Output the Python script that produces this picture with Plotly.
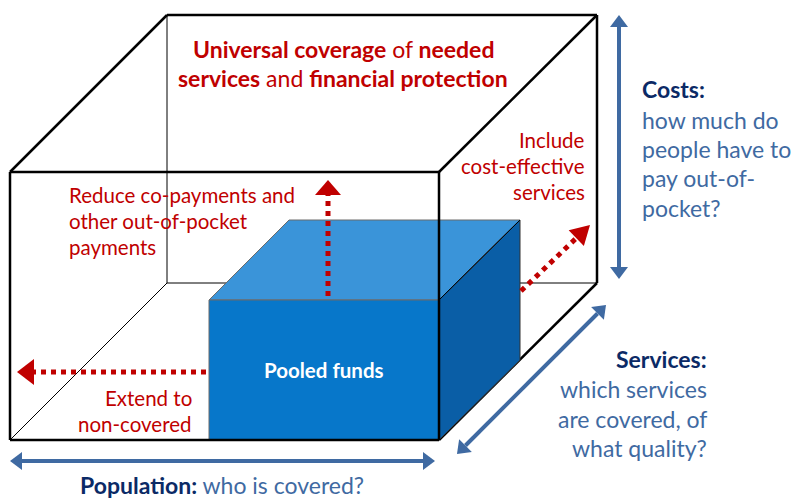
import plotly.graph_objects as go
import math

# ---------------- data (diagram geometry & labels) ----------------
W, H = 792, 500
RED = "#C00000"
NAVY = "#0B2A66"
STEEL = "#3F6AA2"

# outer cube corners
front_face = [(10, 172), (439, 172), (439, 440), (10, 440)]
back_face = [(167, 15), (597, 15), (597, 283), (167, 283)]

# pooled-funds box
box_front = [(209, 300), (439, 300), (439, 440), (209, 440)]
box_top = [(209, 300), (289, 220), (520, 220), (439, 300)]
box_side = [(439, 300), (520, 220), (520, 360), (439, 440)]

title_lines = [
    "<b>Universal coverage</b> of <b>needed</b>",
    "<b>services</b> and <b>financial protection</b>",
]
reduce_lines = ["Reduce co-payments and", "other out-of-pocket", "payments"]
include_lines = ["Include", "cost-effective", "services"]
extend_lines = ["Extend to", "non-covered"]
costs_lines = ["<b>Costs:</b>", "how much do", "people have to", "pay out-of-", "pocket?"]
services_lines = ["<b>Services:</b>", "which services", "are covered, of", "what quality?"]
population_label = "<b><span style='color:%s'>Population:</span></b> who is covered?" % NAVY

FONT = "Lato, 'Open Sans', sans-serif"

shapes = []
annotations = []


def poly(pts, fill, line_color="rgba(0,0,0,0)", lw=0):
    d = "M " + " L ".join(f"{x},{y}" for x, y in pts) + " Z"
    shapes.append(dict(type="path", path=d, xref="x", yref="y", fillcolor=fill,
                       line=dict(color=line_color, width=lw), layer="above"))


def seg(p, q, color="black", lw=2.5, dash="solid"):
    shapes.append(dict(type="line", x0=p[0], y0=p[1], x1=q[0], y1=q[1], xref="x", yref="y",
                       line=dict(color=color, width=lw, dash=dash), layer="above"))


def head(tip, tail, length, half, color):
    dx, dy = tip[0] - tail[0], tip[1] - tail[1]
    n = math.hypot(dx, dy)
    ux, uy = dx / n, dy / n
    bx, by = tip[0] - ux * length, tip[1] - uy * length
    px, py = -uy, ux
    poly([tip, (bx + px * half, by + py * half), (bx - px * half, by - py * half)], color)
    return (bx, by)


# ---- thin hidden edges of cube ----
seg(back_face[0], back_face[3], lw=1)
seg(back_face[3], back_face[2], lw=1)
seg(front_face[3], back_face[3], lw=1)

# ---- thick cube edges (behind box) ----
seg(back_face[0], back_face[1])
seg(back_face[1], back_face[2])
seg(front_face[0], back_face[0])
seg(front_face[1], back_face[1])
seg(front_face[2], back_face[2])

# ---- pooled funds box ----
poly(box_top, "#3A94D9", "#6a6a6a", 1)
poly(box_side, "#0A5EA6", "#333333", 1)
poly(box_front, "#0777CA", "#6a6a6a", 1)
seg((439, 300), (520, 220), lw=1)

# ---- front face of cube ----
seg(front_face[0], front_face[1])
seg(front_face[1], front_face[2])
seg(front_face[2], front_face[3])
seg(front_face[3], front_face[0])

# ---- red dotted arrows ----
b = head((328, 180), (328, 296), 15, 13, RED)
seg((328, 296), b, RED, 5, "5px,5px")
b = head((17, 372), (209, 372), 17, 13, RED)
seg((206, 372), b, RED, 5, "5px,5px")
b = head((590, 225), (521, 291), 19, 11, RED)
seg((521, 291), b, RED, 5, "5px,5px")


# ---- blue dimension arrows ----
def dbl(p, q):
    b1 = head(p, q, 12, 9, STEEL)
    b2 = head(q, p, 12, 9, STEEL)
    seg(b1, b2, STEEL, 4)


dbl((619, 15), (619, 279))
dbl((10, 461), (435, 461))
dbl((457, 454), (606, 305))


# ---- text ----
def lines(texts, x, ys, anchor, color, size):
    for t, y in zip(texts, ys):
        annotations.append(dict(x=x, y=y, xref="x", yref="y", text=t, showarrow=False,
                                xanchor=anchor, yanchor="middle",
                                font=dict(family=FONT, size=size, color=color)))


lines(title_lines, 343, [49, 78], "center", RED, 23)
lines(reduce_lines, 67, [195, 221, 247], "left", RED, 20.5)
lines(include_lines, 587, [140, 166, 192], "right", RED, 20.5)
lines(extend_lines, 194, [398, 424], "right", RED, 20.5)
lines(["<b>Pooled funds</b>"], 324, [370], "center", "white", 20.5)
lines([costs_lines[0]], 640, [89], "left", NAVY, 23)
lines(costs_lines[1:], 640, [120, 149, 178, 208], "left", STEEL, 23)
lines([services_lines[0]], 709, [359], "right", NAVY, 23)
lines(services_lines[1:], 709, [389, 419, 448], "right", STEEL, 23)
lines([population_label], 222, [485], "center", STEEL, 23)

fig = go.Figure()
fig.update_layout(
    width=W, height=H, margin=dict(l=0, r=0, t=0, b=0),
    paper_bgcolor="white", plot_bgcolor="white",
    xaxis=dict(range=[0, W], visible=False, fixedrange=True),
    yaxis=dict(range=[H, 0], visible=False, fixedrange=True),
    shapes=shapes, annotations=annotations, showlegend=False,
)
fig.write_html("out.html", config={"displayModeBar": False},
               post_script="document.body.style.margin='0';document.body.style.overflow='hidden';")
